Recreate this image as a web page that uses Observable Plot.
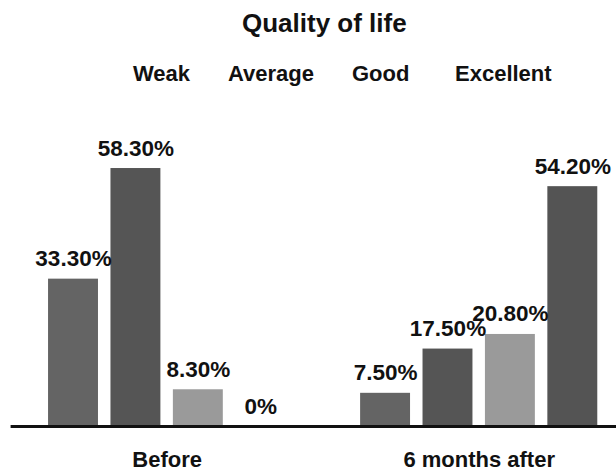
<!DOCTYPE html>
<html>
<head>
<meta charset="utf-8">
<script src="https://cdn.jsdelivr.net/npm/d3@7"></script>
<script src="https://cdn.jsdelivr.net/npm/@observablehq/plot@0.6"></script>
<style>
  body { margin: 0; background: #fff; font-family: "Liberation Sans", Arial, sans-serif; }
  #header { position: relative; width: 616px; height: 100px; }
  #title { position: absolute; top: 10px; left: 242px; line-height: 1; font-weight: bold; font-size: 26px; color: #111; white-space: nowrap; }
  .leg { position: absolute; top: 63px; line-height: 1; font-weight: bold; font-size: 22px; color: #111; white-space: nowrap; }
</style>
</head>
<body>
<div id="header">
  <div id="title"></div>
</div>
<div id="chart"></div>
<script>
const title = "Quality of life";
const groups = ["Before", "6 months after"];
const categories = ["Weak", "Average", "Good", "Excellent"];
const beforeValues = [33.3, 58.3, 8.3, 0];
const afterValues = [7.5, 17.5, 20.8, 54.2];
const colors = ["#646464", "#555555", "#9a9a9a", "#545454"];
const legendLeft = [133, 228, 352, 455];

document.getElementById("title").textContent = title;
const header = document.getElementById("header");
categories.forEach((c, i) => {
  const s = document.createElement("div");
  s.className = "leg";
  s.style.left = legendLeft[i] + "px";
  s.textContent = c;
  header.appendChild(s);
});

const seriesValues = [beforeValues, afterValues];
const data = [];
groups.forEach((g, gi) => categories.forEach((c, ci) => {
  data.push({group: g, category: c, value: seriesValues[gi][ci], pos: gi * 5 + ci});
}));
const fmt = v => v === 0 ? "0%" : v.toFixed(2) + "%";

const chart = Plot.plot({
  width: 616,
  height: 371,
  marginLeft: 10.6,
  marginRight: 0,
  marginTop: 60.5,
  marginBottom: 45,
  style: {fontFamily: '"Liberation Sans", Arial, sans-serif', background: "#fff"},
  x: {type: "linear", domain: [-1, 8.7], axis: null},
  y: {domain: [0, 60], axis: null},
  color: {domain: categories, range: colors},
  marks: [
    Plot.rectY(data, {x1: d => d.pos - 0.4, x2: d => d.pos + 0.4, y: "value", fill: "category"}),
    Plot.ruleY([0], {stroke: "#111", strokeWidth: 3}),
    Plot.text(data, {x: "pos", y: "value", text: d => fmt(d.value), lineAnchor: "bottom", dy: -13, fontSize: 22.5, fontWeight: "bold", fill: "#111"}),
    Plot.text(groups, {x: (d, i) => i * 5 + 1.5, y: () => 0, text: d => d, lineAnchor: "bottom", dy: 40, fontSize: 22, fontWeight: "bold", fill: "#111"})
  ]
});
document.getElementById("chart").appendChild(chart);
</script>
</body>
</html>
